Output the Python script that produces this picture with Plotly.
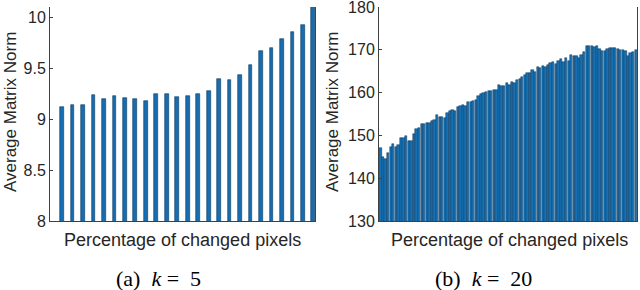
import plotly.graph_objects as go

# (a) k = 5
a_x = list(range(1, 26))
a_vals = [9.115, 9.137, 9.140, 9.238, 9.200, 9.222, 9.206, 9.193, 9.176, 9.245,
          9.245, 9.213, 9.229, 9.245, 9.278, 9.392, 9.386, 9.428, 9.526, 9.670,
          9.700, 9.784, 9.853, 9.928, 10.15]
a_ticks = [8, 8.5, 9, 9.5, 10]
a_ticktext = ["8", "8.5", "9", "9.5", "10"]

# (b) k = 20
b_vals = [147.0, 145.0, 144.4, 145.8, 147.2, 148.0, 147.2, 147.8, 149.3, 149.4,
          149.9, 148.6, 148.8, 150.3, 151.5, 151.8, 152.6, 152.7, 152.9, 152.8,
          153.4, 153.6, 154.8, 154.2, 154.4, 154.0, 155.2, 155.6, 155.9, 155.8,
          156.6, 156.8, 157.0, 156.9, 157.9, 157.9, 158.0, 158.4, 159.2, 159.8,
          160.0, 160.2, 160.3, 160.5, 160.7, 160.6, 161.8, 161.5, 161.6, 162.3,
          161.9, 162.4, 162.2, 163.0, 163.3, 163.6, 164.1, 164.5, 164.6, 165.3,
          164.8, 166.0, 165.8, 166.2, 165.9, 166.4, 166.9, 167.2, 166.8, 167.5,
          167.8, 167.2, 168.0, 167.3, 168.8, 168.5, 168.6, 168.2, 168.8, 169.5,
          170.8, 170.9, 170.9, 170.7, 170.8, 170.1, 169.7, 169.8, 170.3, 170.4,
          170.5, 170.4, 170.1, 170.0, 169.9, 169.8, 168.6, 169.2, 169.5, 170.0]
b_x = list(range(1, len(b_vals) + 1))
b_ticks = [130, 140, 150, 160, 170, 180]

y_title = "Average Matrix Norm"
x_title = "Percentage of changed pixels"
cap_a = "(a)&nbsp;&nbsp;<i>k</i>&nbsp;=&nbsp;&nbsp;5"
cap_b = "(b)&nbsp;&nbsp;<i>k</i>&nbsp;=&nbsp;&nbsp;20"

FONT = "Liberation Sans, Arial, sans-serif"
SERIF = "Liberation Serif, Times New Roman, serif"
AXC = "#404040"
TXT = "#262626"

fig = go.Figure()
fig.add_trace(go.Bar(x=a_x, y=a_vals, width=0.36, xaxis="x", yaxis="y",
                     marker=dict(color="#176db0", line=dict(color="#0a3a60", width=0.6)),
                     showlegend=False))
fig.add_trace(go.Bar(x=b_x, y=b_vals, width=0.9, xaxis="x2", yaxis="y2",
                     marker=dict(color="#1570b4", line=dict(color="#0a3458", width=0.5)),
                     showlegend=False))

top = 1 - 7 / 290
bot = 1 - 221 / 290
yax_common = dict(showline=True, linecolor=AXC, linewidth=1, mirror=True,
                  ticks="inside", ticklen=3, tickcolor=AXC, showgrid=False, zeroline=False,
                  ticklabeloverflow="allow", automargin=False,
                  tickfont=dict(family=FONT, size=16, color=TXT), domain=[bot, top])
xax_common = dict(showline=True, linecolor=AXC, linewidth=1, showticklabels=False,
                  ticks="", showgrid=False, zeroline=False, automargin=False)

fig.update_layout(
    width=640, height=290,
    margin=dict(l=0, r=0, t=0, b=0, autoexpand=False),
    paper_bgcolor="white", plot_bgcolor="white",
    bargap=0,
    xaxis=dict(domain=[50 / 640, 315 / 640], range=[-0.15, 25.16], **xax_common),
    yaxis=dict(range=[8, 10.1], tickvals=a_ticks, ticktext=a_ticktext, **yax_common),
    xaxis2=dict(domain=[379 / 640, 637 / 640], range=[0.45, 100.5], anchor="y2", **xax_common),
    yaxis2=dict(range=[130, 180.02], tickvals=b_ticks, anchor="x2", **yax_common),
)

ann = []
for xc, txt in [(10, y_title), (332, y_title)]:
    ann.append(dict(x=xc / 640, y=1 - 112 / 290, xref="paper", yref="paper", text=txt,
                    textangle=-90, showarrow=False, xanchor="center", yanchor="middle",
                    font=dict(family=FONT, size=17, color=TXT)))
for xc in [182.5, 509]:
    ann.append(dict(x=xc / 640, y=1 - 240 / 290, xref="paper", yref="paper", text=x_title,
                    showarrow=False, xanchor="center", yanchor="middle",
                    font=dict(family=FONT, size=18, color=TXT)))
for xc, txt in [(158, cap_a), (483, cap_b)]:
    ann.append(dict(x=xc / 640, y=1 - 278 / 290, xref="paper", yref="paper", text=txt,
                    showarrow=False, xanchor="center", yanchor="middle",
                    font=dict(family=SERIF, size=22, color="black")))
fig.update_layout(annotations=ann)

fig.write_html("out.html", config={"displayModeBar": False},
               post_script="document.body.style.margin='0';document.body.style.padding='0';")
